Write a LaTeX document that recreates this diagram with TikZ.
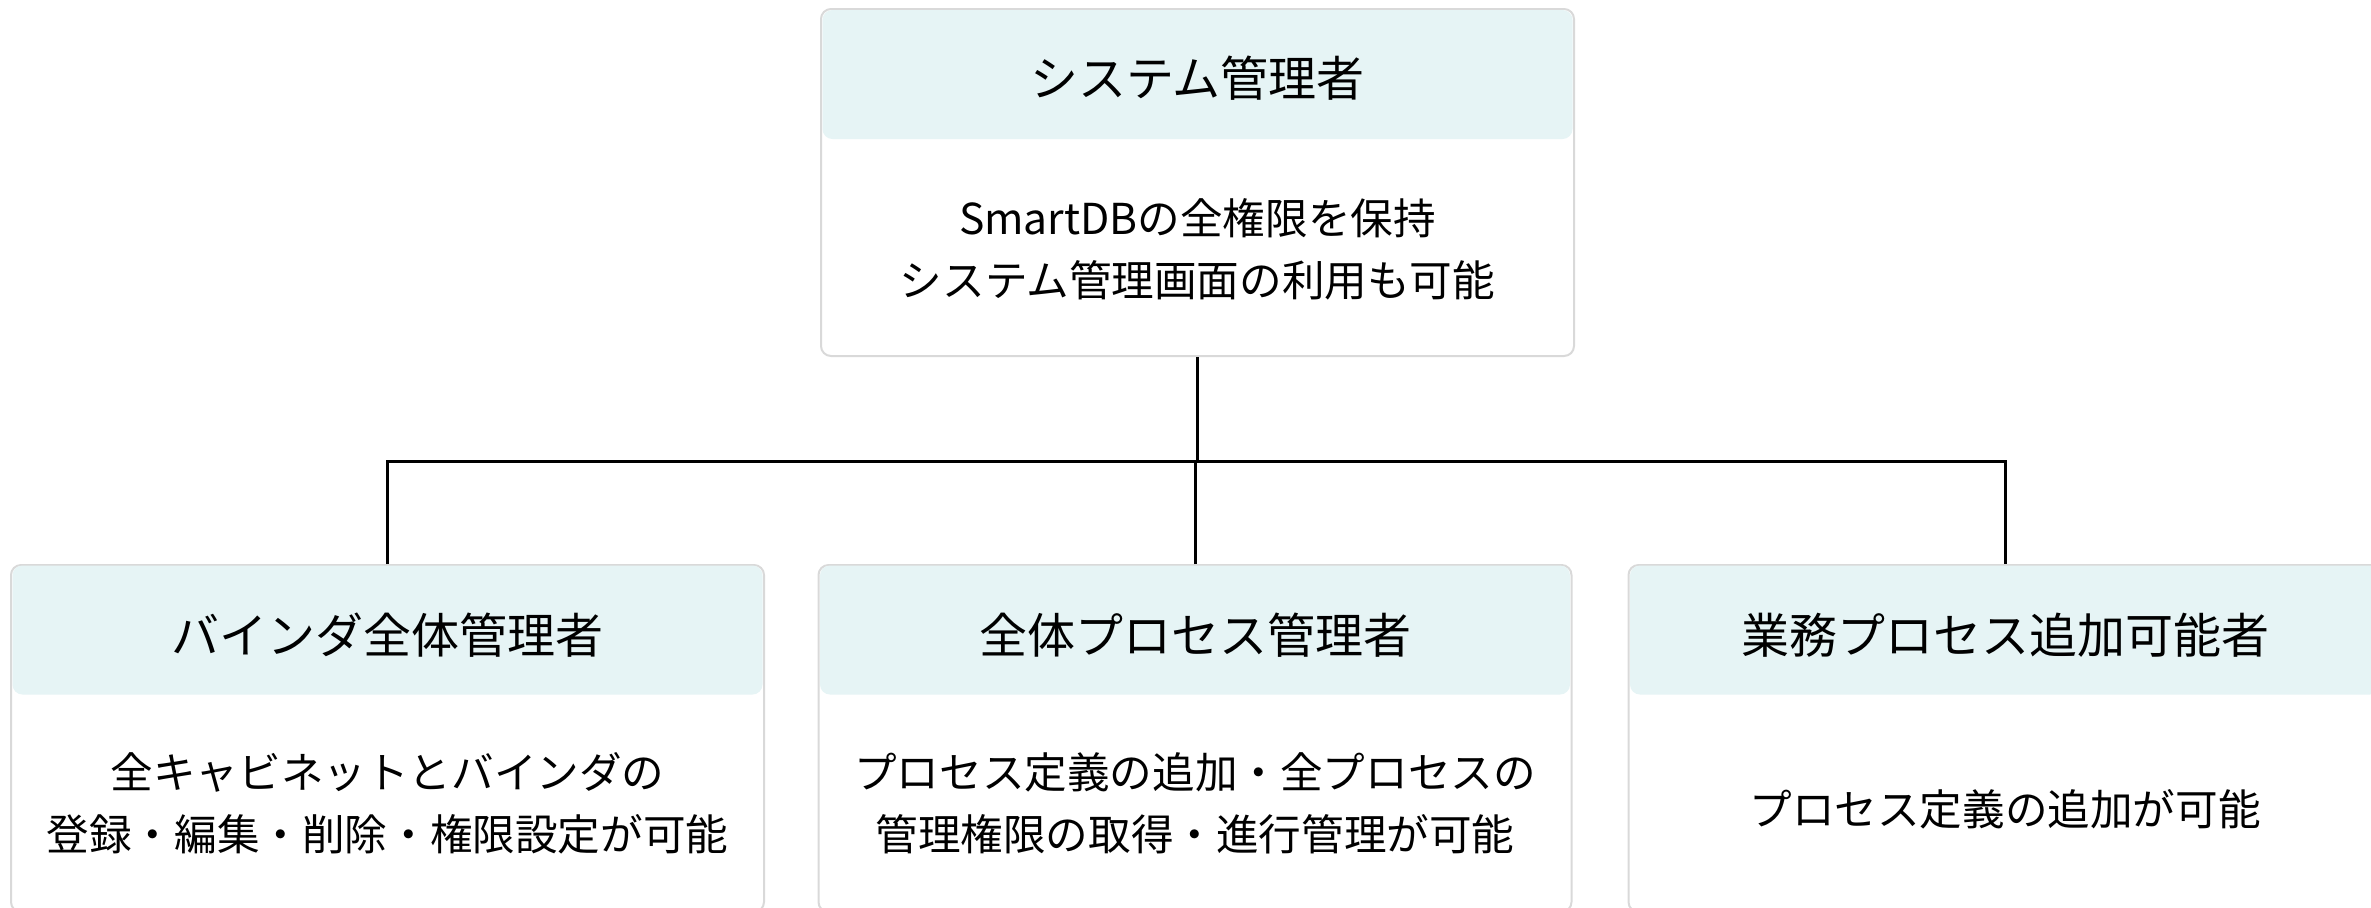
\documentclass[tikz,border=0pt]{standalone}
\usepackage{fontspec}
\newfontfamily\jp{Noto Sans CJK JP}
\definecolor{hdrfill}{HTML}{E6F4F5}
\definecolor{boxline}{HTML}{D9D9D9}
\begin{document}
\begin{tikzpicture}[x=0.5pt,y=-0.5pt,
  card/.style={draw=boxline,line width=1pt,fill=white,rounded corners=5pt,minimum width=376.5pt,minimum height=173.5pt,inner sep=0pt},
  hdr/.style={fill=hdrfill,rounded corners=5pt,minimum width=375pt,minimum height=64.5pt,inner sep=0pt},
  ttl/.style={font=\jp\fontsize{24pt}{28pt}\selectfont,inner sep=0pt},
  body/.style={font=\jp\fontsize{21.3pt}{31pt}\selectfont,align=center,inner sep=0pt},
  conn/.style={line width=1.5pt,black}]
\useasboundingbox (0,0) rectangle (2371,907);
\clip (0,0) rectangle (2371,907);
% top card
\node[card] (top) at (1197.5,182.5) {};
\node[hdr] (toph) at (1197.5,74.5) {};
\node[ttl] (topt) at (1197.5,78) {システム管理者};
\node[body] (topb) at (1197.5,249) {SmartDBの全権限を保持\\システム管理画面の利用も可能};
% bottom cards
\node[card] (left) at (387.5,738.5) {};
\node[hdr] (lefth) at (387.5,630) {};
\node[ttl] (leftt) at (387.5,635) {バインダ全体管理者};
\node[body] (leftb) at (387.5,803) {全キャビネットとバインダの\\登録・編集・削除・権限設定が可能};
\node[card] (mid) at (1195,738.5) {};
\node[hdr] (midh) at (1195,630) {};
\node[ttl] (midt) at (1195,635) {全体プロセス管理者};
\node[body] (midb) at (1195,803) {プロセス定義の追加・全プロセスの\\管理権限の取得・進行管理が可能};
\node[card] (right) at (2005,738.5) {};
\node[hdr] (righth) at (2005,630) {};
\node[ttl] (rightt) at (2005,635) {業務プロセス追加可能者};
\node[body] (rightb) at (2005,809) {プロセス定義の追加が可能};
% connectors
\coordinate (bar) at (0,461);
\draw[conn] (top.south) -- (top.south |- bar);
\draw[conn] (left.north) -- (left.north |- bar) -- (right.north |- bar) -- (right.north);
\draw[conn] (mid.north) -- (mid.north |- bar);
\end{tikzpicture}
\end{document}
